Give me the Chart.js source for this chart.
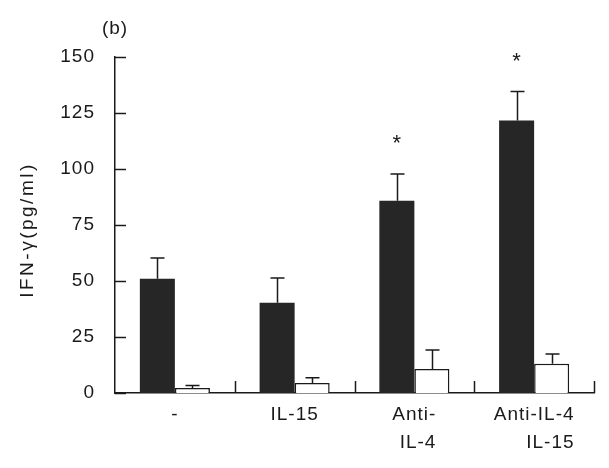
<!DOCTYPE html>
<html>
<head>
<meta charset="utf-8">
<script src="https://cdn.jsdelivr.net/npm/chart.js@4"></script>
<style>
  html, body { margin: 0; padding: 0; background: #fff; }
</style>
</head>
<body>
<canvas id="grafico" width="609" height="468"></canvas>
<script>
const categorias = [["-"], ["IL-15"], ["Anti-", "IL-4"], ["Anti-IL-4", "IL-15"]];
const mediaPreto = [51, 40.3, 85.8, 121.6];
const erroPreto = [9.3, 11, 12, 13];
const mediaBranco = [2.2, 4.5, 10.7, 13.1];
const erroBranco = [1.1, 2.3, 8.5, 4.3];
const significancia = ["", "", "*", "*"];
const ticksY = [0, 25, 50, 75, 100, 125, 150];
const tituloY = "IFN-γ(pg/ml)";
const painel = "(b)";

const corTinta = "#1a1a1a";
const fonte = "'Liberation Sans', Arial, sans-serif";

// desenha ticks para dentro, barras de erro, asteriscos e rótulos
const extras = {
  id: "extras",
  beforeDraw(chart) {
    chart.ctx.letterSpacing = "1px";
  },
  afterDatasetsDraw(chart) {
    const ctx = chart.ctx;
    const x = chart.scales.x;
    const y = chart.scales.y;
    const area = chart.chartArea;
    ctx.save();
    ctx.strokeStyle = corTinta;
    ctx.lineWidth = 1.5;

    // ticks do eixo y (para dentro)
    ticksY.forEach(v => {
      const py = Math.round(y.getPixelForValue(v)) + 0.5;
      ctx.beginPath();
      ctx.moveTo(area.left, py);
      ctx.lineTo(area.left + 11, py);
      ctx.stroke();
    });

    // ticks do eixo x nos limites das categorias
    const larg = (area.right - area.left) / categorias.length;
    for (let i = 1; i <= categorias.length; i++) {
      const px = Math.round(area.left + i * larg) + 0.5;
      ctx.beginPath();
      ctx.moveTo(px, area.bottom);
      ctx.lineTo(px, area.bottom - 12);
      ctx.stroke();
    }

    // barras de erro (só para cima)
    const series = [[mediaPreto, erroPreto], [mediaBranco, erroBranco]];
    series.forEach((s, d) => {
      const meta = chart.getDatasetMeta(d);
      meta.data.forEach((bar, i) => {
        const topo = y.getPixelForValue(s[0][i] + s[1][i]);
        const bx = Math.round(bar.x) + 0.5;
        ctx.beginPath();
        ctx.moveTo(bx, bar.y);
        ctx.lineTo(bx, topo);
        ctx.moveTo(bx - 7, topo);
        ctx.lineTo(bx + 7, topo);
        ctx.stroke();
      });
    });

    // asteriscos
    ctx.fillStyle = corTinta;
    ctx.font = "22px " + fonte;
    ctx.letterSpacing = "0px";
    ctx.textAlign = "center";
    ctx.textBaseline = "middle";
    const metaPreto = chart.getDatasetMeta(0);
    significancia.forEach((s, i) => {
      if (!s) return;
      const topo = y.getPixelForValue(mediaPreto[i] + erroPreto[i]);
      ctx.fillText(s, metaPreto.data[i].x, topo - 30);
    });

    // rótulos do eixo x
    ctx.font = "19px " + fonte;
    ctx.letterSpacing = "1px";
    categorias.forEach((linhas, i) => {
      const cx = x.getPixelForValue(i);
      if (linhas.length === 1) {
        ctx.textAlign = "center";
        ctx.fillText(linhas[0], cx, 415);
        return;
      }
      const w = Math.max(...linhas.map(l => ctx.measureText(l).width));
      ctx.textAlign = "right";
      linhas.forEach((l, k) => ctx.fillText(l, cx + w / 2, 415 + k * 28));
    });

    // título do eixo y
    ctx.save();
    ctx.translate(28, (area.top + area.bottom) / 2 + 5);
    ctx.rotate(-Math.PI / 2);
    ctx.letterSpacing = "2.5px";
    ctx.textAlign = "center";
    ctx.fillText(tituloY, 0, 0);
    ctx.restore();

    // rótulo do painel
    ctx.letterSpacing = "1px";
    ctx.textAlign = "center";
    ctx.fillText(painel, 115, 29);
    ctx.restore();
  }
};

new Chart(document.getElementById("grafico"), {
  type: "bar",
  data: {
    labels: categorias,
    datasets: [
      {
        data: mediaPreto,
        backgroundColor: "#262626",
        borderWidth: 0,
        categoryPercentage: 0.585,
        barPercentage: 1
      },
      {
        data: mediaBranco,
        backgroundColor: "#fff",
        borderColor: corTinta,
        borderWidth: 1.5,
        borderSkipped: "bottom",
        categoryPercentage: 0.585,
        barPercentage: 1
      }
    ]
  },
  options: {
    responsive: false,
    animation: false,
    layout: { padding: { left: 0, right: 15, top: 57, bottom: 0 } },
    plugins: { legend: { display: false }, tooltip: { enabled: false } },
    scales: {
      x: {
        offset: true,
        grid: { display: false, drawTicks: false },
        border: { display: true, color: corTinta, width: 1.5 },
        ticks: { display: false },
        afterFit: s => { s.height = 75; }
      },
      y: {
        min: 0,
        max: 150,
        grid: { display: false, drawTicks: false },
        border: { display: true, color: corTinta, width: 1.5 },
        ticks: {
          stepSize: 25,
          padding: 20,
          color: corTinta,
          font: { family: fonte, size: 19 }
        },
        afterFit: s => { s.width = 115; }
      }
    }
  },
  plugins: [extras]
});
</script>
</body>
</html>
